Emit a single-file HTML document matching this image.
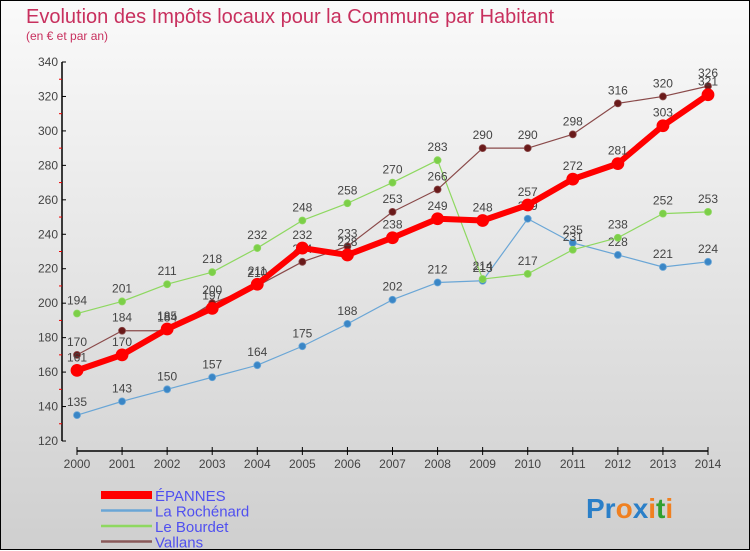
<!DOCTYPE html>
<html><head><meta charset="utf-8"><style>
body{margin:0}
#c{width:750px;height:550px;position:relative;background:linear-gradient(#fafafa,#cfcfcf);box-sizing:border-box;border:1px solid #000;font-family:"Liberation Sans",sans-serif}
svg{position:absolute;left:0;top:0}
</style></head><body>
<div id="c">
<svg id="s" width="750" height="550">
<text x="25" y="22" font-size="20" fill="#c8305e">Evolution des Impôts locaux pour la Commune par Habitant</text>
<text x="25" y="39" font-size="12" fill="#c8305e">(en € et par an)</text>
<text x="585" y="517" font-size="28" font-weight="bold"><tspan fill="#2a7fc8">Pr</tspan><tspan fill="#f08020">o</tspan><tspan fill="#2a7fc8">x</tspan><tspan fill="#f08020">i</tspan><tspan fill="#30a030">t</tspan><tspan fill="#f08020">i</tspan></text>
</svg>
</div>
<script>
const years=["2000","2001","2002","2003","2004","2005","2006","2007","2008","2009","2010","2011","2012","2013","2014"];
const yTicks=[120,140,160,180,200,220,240,260,280,300,320,340];
const epannes=[161,170,185,197,211,232,228,238,249,248,257,272,281,303,321];
const rochenard=[135,143,150,157,164,175,188,202,212,213,249,235,228,221,224];
const bourdet=[194,201,211,218,232,248,258,270,283,214,217,231,238,252,253];
const vallans=[170,184,184,200,210,224,233,253,266,290,290,298,316,320,326];
const seriesNames=["ÉPANNES","La Rochénard","Le Bourdet","Vallans"];
const NS="http://www.w3.org/2000/svg";
const s=document.getElementById('s');
const X=i=>76+i*(707-76)/14;
const Y=v=>440-(v-120)*(379/220);
function el(t,a,p){const e=document.createElementNS(NS,t);for(const k in a)e.setAttribute(k,a[k]);(p||s).appendChild(e);return e;}
let ax=el('line',{x1:61,y1:Y(340),x2:61,y2:440,stroke:'#000','stroke-width':1.5});

let bx=el('line',{x1:76,y1:450,x2:707,y2:450,stroke:'#000','stroke-width':1.5});

yTicks.forEach((v,i)=>{
 el('line',{x1:61,y1:Y(v),x2:65,y2:Y(v),stroke:'#000'});
 if(i<yTicks.length-1)el('line',{x1:58,y1:Y(v+10),x2:61,y2:Y(v+10),stroke:'#e00'});
 const t=el('text',{x:57,y:Y(v)+4,'font-size':12,fill:'#444','text-anchor':'end'});t.textContent=v;
 
});
years.forEach((y,i)=>{
 el('line',{x1:X(i),y1:446,x2:X(i),y2:454,stroke:'#000'});
 const t=el('text',{x:X(i),y:467,'font-size':12,fill:'#444','text-anchor':'middle'});t.textContent=y;
 
});
function series(data,color,w,r,name,dot){
 const g=el('g',{});
 el('polyline',{points:data.map((v,i)=>X(i)+','+Y(v)).join(' '),fill:'none',stroke:color,'stroke-width':w,'stroke-linejoin':'round'},g);
 data.forEach((v,i)=>{
  const c=el('circle',{cx:X(i),cy:Y(v),r:r,fill:dot,stroke:color,'stroke-width':0.8},g);
  
  const t=el('text',{x:X(i),y:Y(v)-9,'font-size':12,fill:'#444','text-anchor':'middle'},g);t.textContent=v;
 });
}
series(rochenard,'#6aa6d6',1.2,3.5,'series-la-rochenard','#3a86c6');
series(bourdet,'#8ed860',1.2,3.5,'series-le-bourdet','#7ccf48');
series(vallans,'#8a4a4a',1.2,3.5,'series-vallans','#6a1a1a');
series(epannes,'#f00',6,6,'series-epannes','#f00');
const lc=['#f00','#6aa6d6','#8ed860','#8a5a5a'],lw=[8,2.5,2.5,2.5];
seriesNames.forEach((n,i)=>{
 const yy=494+i*15.5;
 const g=el('g',{});
 el('line',{x1:100,y1:yy,x2:151,y2:yy,stroke:lc[i],'stroke-width':lw[i]},g);
 const t=el('text',{x:154,y:yy+6,'font-size':15,fill:'#5050f0'},g);t.textContent=n;
});
</script>
</body></html>
